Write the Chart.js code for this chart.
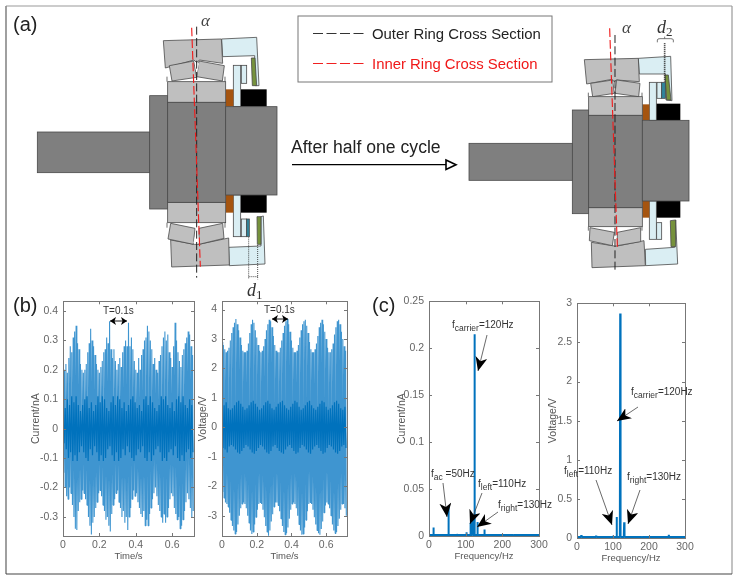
<!DOCTYPE html>
<html>
<head>
<meta charset="utf-8">
<script src="https://cdn.jsdelivr.net/npm/chart.js@4/dist/chart.umd.min.js"></script>
<style>
html, body { margin: 0; padding: 0; background: #fff; }
#page { position: relative; width: 738px; height: 579px; overflow: hidden; font-family: "Liberation Sans", Arial, sans-serif; }
#page canvas { position: absolute; }
#art { position: absolute; left: 0; top: 0; }
.part { stroke: #4a4a4a; stroke-width: 2.4; }
.dark { fill: #7f7f7f; }
.light { fill: #bfbfbf; }
.seal { fill: #daeef3; }
.brown { fill: #a5540f; }
.black { fill: #000; }
.green { fill: #76923c; }
.teal { fill: #31859c; }
.note { font-size: 10px; fill: #333; }
.panel { font-size: 20px; fill: #222; }
.alpha { font-family: "Liberation Serif", serif; font-style: italic; font-size: 17px; fill: #444; }
</style>
</head>
<body>
<div id="page">
  <canvas id="currentWave" width="172" height="272" style="left:30px;top:290px"></canvas>
  <canvas id="voltageWave" width="158" height="272" style="left:197px;top:290px"></canvas>
  <canvas id="currentSpec" width="155" height="272" style="left:396px;top:290px"></canvas>
  <canvas id="voltageSpec" width="150" height="272" style="left:547px;top:292px"></canvas>

  <svg id="art" width="738" height="579" xmlns="http://www.w3.org/2000/svg">
    <defs>
      <marker id="bigHead" markerUnits="userSpaceOnUse" markerWidth="16" markerHeight="12" refX="14" refY="6" orient="auto">
        <path d="M0,0 L14,6 L0,12 L4,6 Z" fill="#000"/>
      </marker>
      <marker id="tinyHead" markerUnits="userSpaceOnUse" markerWidth="7" markerHeight="8" refX="6" refY="4" orient="auto-start-reverse">
        <path d="M0,0 L6,4 L0,8 L1.5,4 Z" fill="#000"/>
      </marker>
    </defs>

    <!-- figure frame -->
    <line x1="6" y1="6" x2="732" y2="6" stroke="#999" stroke-width="1.2"/>
    <line x1="6" y1="6" x2="6" y2="574" stroke="#888" stroke-width="1.6"/>
    <line x1="732" y1="6" x2="732" y2="574" stroke="#999" stroke-width="1.2"/>
    <line x1="6" y1="574" x2="732" y2="574" stroke="#444" stroke-width="1.2"/>

    <text class="panel" x="13" y="31">(a)</text>
    <text class="panel" x="13" y="312">(b)</text>
    <text class="panel" x="372" y="312">(c)</text>

    <!-- legend -->
    <rect x="298" y="16" width="254" height="66" fill="#fff" stroke="#777" stroke-width="1"/>
    <line x1="313" y1="33.5" x2="364" y2="33.5" stroke="#333" stroke-width="1.2" stroke-dasharray="10 3.5"/>
    <line x1="313" y1="63.5" x2="364" y2="63.5" stroke="#f02020" stroke-width="1.2" stroke-dasharray="10 3.5"/>
    <text x="372" y="39" font-size="14.9" fill="#222">Outer Ring Cross Section</text>
    <text x="372" y="69" font-size="14.9" fill="#f01818">Inner Ring Cross Section</text>

    <!-- left bearing, traced at 3x -->
    <g transform="scale(0.33333)">
      <rect class="part dark" x="112" y="396" width="338" height="122"/>
      <rect class="part dark" x="449" y="287" width="54" height="340"/>
      <polygon class="part seal" points="665,117 770,112 777,257 766,257 764,167 668,170"/>
      <polygon class="part seal" points="783,650 790,648 795,792 688,797 686,742 783,738"/>
      <polygon class="part green" points="754,174 765,174 770,257 757,257"/>
      <polygon class="part green" points="771,650 783,650 783,733 772,733"/>
      <rect class="part seal" x="700" y="196" width="22" height="124"/>
      <rect class="part seal" x="724" y="196" width="16" height="54"/>
      <rect class="part seal" x="700" y="585" width="22" height="125"/>
      <rect class="part seal" x="724" y="657" width="16" height="53"/>
      <rect class="part teal" x="740" y="657" width="8" height="53"/>
      <rect class="brown" x="677" y="268" width="23" height="52"/>
      <rect class="brown" x="677" y="585" width="23" height="53"/>
      <rect class="black" x="723" y="268" width="77" height="52"/>
      <rect class="black" x="723" y="585" width="77" height="53"/>
      <polygon class="part light" points="490,122 664,117 668,190 598,180 590,188 582,180 496,204"/>
      <polygon class="part light" points="512,720 583,733 597,733 686,714 688,795 515,801"/>
      <polygon class="part light" points="508,197 581,183 590,232 516,243"/>
      <polygon class="part light" points="597,183 673,197 667,243 590,230"/>
      <polygon class="part light" points="512,670 585,685 580,733 504,717"/>
      <polygon class="part light" points="597,685 668,670 672,715 597,733"/>
      <polygon points="590,690 580,730 600,730" fill="#fff"/>
      <polygon points="585,190 597,190 590,225" fill="#fff"/>
      <rect class="part light" x="503" y="245" width="174" height="62"/>
      <rect class="part light" x="503" y="607" width="174" height="61"/>
      <line class="part" x1="501" y1="230" x2="501" y2="245"/>
      <line class="part" x1="675" y1="230" x2="675" y2="245"/>
      <line class="part" x1="501" y1="668" x2="501" y2="683"/>
      <line class="part" x1="675" y1="668" x2="675" y2="683"/>
      <rect class="part dark" x="503" y="307" width="174" height="300"/>
      <rect class="part dark" x="677" y="320" width="154" height="265"/>
      <line x1="590" y1="80" x2="590" y2="833" stroke="#222" stroke-width="3" stroke-dasharray="24 10"/>
      <line x1="575" y1="83" x2="601" y2="800" stroke="#f01c1c" stroke-width="3.4" stroke-dasharray="26 9"/>
      <path d="M746,712 V838 M773,735 V838 M746,830 H773" fill="none" stroke="#222" stroke-width="2.4" stroke-dasharray="3 3"/>
    </g>
    <text class="alpha" x="201" y="26">α</text>
    <text x="247" y="296" font-family="Liberation Serif, serif" font-style="italic" font-size="18" fill="#333">d<tspan dy="3" font-size="13" font-style="normal">1</tspan></text>

    <!-- right bearing, traced at 3x -->
    <g transform="translate(370,0) scale(0.33333)">
      <rect class="part dark" x="297" y="430" width="311" height="111"/>
      <rect class="part dark" x="607" y="330" width="49" height="311"/>
      <polygon class="part seal" points="805,175 902,169 906,302 888,300 886,222 808,222"/>
      <polygon class="part seal" points="826,748 914,742 917,660 923,792 827,797"/>
      <polygon class="part green" points="885,225 895,225 903,300 890,300"/>
      <polygon class="part green" points="901,662 917,660 917,740 903,740"/>
      <rect class="part seal" x="838" y="247" width="21" height="114"/>
      <rect class="part seal" x="861" y="247" width="14" height="48"/>
      <rect class="part teal" x="875" y="247" width="11" height="48"/>
      <rect class="part seal" x="838" y="603" width="21" height="115"/>
      <rect class="part seal" x="860" y="668" width="15" height="50"/>
      <rect class="brown" x="817" y="313" width="21" height="48"/>
      <rect class="brown" x="817" y="603" width="21" height="50"/>
      <rect class="black" x="860" y="311" width="71" height="50"/>
      <rect class="black" x="860" y="603" width="71" height="50"/>
      <polygon class="part light" points="643,179 805,175 808,245 740,240 733,245 725,238 650,252"/>
      <polygon class="part light" points="664,727 733,738 742,738 822,722 826,797 666,803"/>
      <polygon class="part light" points="662,250 728,240 733,280 668,290"/>
      <polygon class="part light" points="740,240 810,250 806,290 735,280"/>
      <polygon class="part light" points="660,683 733,697 727,737 658,722"/>
      <polygon class="part light" points="742,697 812,683 812,725 742,737"/>
      <rect class="part light" x="656" y="290" width="161" height="56"/>
      <rect class="part light" x="656" y="623" width="161" height="57"/>
      <line class="part" x1="655" y1="278" x2="655" y2="290"/>
      <line class="part" x1="816" y1="278" x2="816" y2="290"/>
      <line class="part" x1="655" y1="680" x2="655" y2="692"/>
      <line class="part" x1="816" y1="680" x2="816" y2="692"/>
      <rect class="part dark" x="656" y="346" width="161" height="277"/>
      <rect class="part dark" x="817" y="361" width="140" height="242"/>
      <line x1="735" y1="105" x2="735" y2="815" stroke="#222" stroke-width="3" stroke-dasharray="24 10"/>
      <line x1="719" y1="85" x2="742" y2="740" stroke="#f01c1c" stroke-width="3.4" stroke-dasharray="26 9"/>
      <path d="M884,130 V245" fill="none" stroke="#222" stroke-width="5" stroke-dasharray="3 3"/>
      <path d="M862,127 V120 Q862,116 870,116 H884 V110 M884,116 H902 Q910,116 910,120 V127" fill="none" stroke="#444" stroke-width="2.2"/>
    </g>
    <text class="alpha" x="622" y="33">α</text>
    <text x="657" y="33" font-family="Liberation Serif, serif" font-style="italic" font-size="18" fill="#333">d<tspan dy="3" font-size="13" font-style="normal">2</tspan></text>

    <!-- half cycle arrow -->
    <text x="291" y="153" font-size="17.6" fill="#222">After half one cycle</text>
    <line x1="292" y1="164.7" x2="446" y2="164.7" stroke="#000" stroke-width="1.3"/>
    <polygon points="446,160 456,164.7 446,169.4" fill="#fff" stroke="#000" stroke-width="1.6"/>

    <!-- T labels on the time plots -->
    <text class="note" x="103" y="314">T=0.1s</text>
    <line x1="110" y1="321" x2="127" y2="321" stroke="#000" stroke-width="0.9" marker-start="url(#tinyHead)" marker-end="url(#tinyHead)"/>
    <text class="note" x="264" y="313">T=0.1s</text>
    <line x1="272" y1="319" x2="288" y2="319" stroke="#000" stroke-width="0.9" marker-start="url(#tinyHead)" marker-end="url(#tinyHead)"/>

    <!-- labels on the spectra -->
    <text class="note" x="452" y="328">f<tspan dy="3" font-size="8.5">carrier</tspan><tspan dy="-3">=120Hz</tspan></text>
    <line x1="487" y1="335" x2="478" y2="371" stroke="#444" stroke-width="0.8" marker-end="url(#bigHead)"/>
    <text class="note" x="431" y="477">f<tspan dy="3" font-size="8.5">ac</tspan><tspan dy="-3"> =50Hz</tspan></text>
    <line x1="443" y1="483" x2="447" y2="517" stroke="#444" stroke-width="0.8" marker-end="url(#bigHead)"/>
    <text class="note" x="478" y="487">f<tspan dy="3" font-size="8.5">left</tspan><tspan dy="-3">=110Hz</tspan></text>
    <line x1="482" y1="493" x2="470" y2="524" stroke="#444" stroke-width="0.8" marker-end="url(#bigHead)"/>
    <text class="note" x="498" y="508">f<tspan dy="3" font-size="8.5">right</tspan><tspan dy="-3">=130Hz</tspan></text>
    <line x1="498" y1="512" x2="477" y2="527" stroke="#444" stroke-width="0.8" marker-end="url(#bigHead)"/>

    <text class="note" x="631" y="395">f<tspan dy="3" font-size="8.5">carrier</tspan><tspan dy="-3">=120Hz</tspan></text>
    <line x1="638" y1="407" x2="617" y2="421" stroke="#444" stroke-width="0.8" marker-end="url(#bigHead)"/>
    <text class="note" x="564" y="474">f<tspan dy="3" font-size="8.5">left</tspan><tspan dy="-3">=110Hz</tspan></text>
    <line x1="596" y1="480" x2="612" y2="525" stroke="#444" stroke-width="0.8" marker-end="url(#bigHead)"/>
    <text class="note" x="627" y="480">f<tspan dy="3" font-size="8.5">right</tspan><tspan dy="-3">=130Hz</tspan></text>
    <line x1="640" y1="490" x2="628" y2="524" stroke="#444" stroke-width="0.8" marker-end="url(#bigHead)"/>
  </svg>
</div>

<script>
// peaks, one up and one down per step
const waveStep = 0.008;
const coreStep = 0.012;

const currentUpper = [
  .19,.2,.22,.19,.24,.28,.26,.31,.33,.35,
  .29,.27,.22,.2,.19,.2,.22,.26,.29,.34,
  .3,.28,.25,.22,.2,.19,.21,.23,.26,.27,
  .31,.29,.365,.27,.24,.27,.23,.2,.22,.24,
  .21,.26,.28,.3,.28,.36,.28,.31,.27,.23,
  .2,.19,.24,.2,.25,.27,.3,.31,.35,.33,
  .3,.27,.22,.24,.2,.19,.23,.25,.28,.31,
  .33,.3,.32,.26,.24,.21,.28,.36,.3,.26,
  .23,.21,.25,.27,.29,.31,.33,.32,.28,.25];
const currentLower = [
  -.15,-.2,-.23,-.24,-.2,-.22,-.26,-.3,-.34,-.345,
  -.28,-.25,-.24,-.21,-.22,-.24,-.26,-.3,-.33,-.36,
  -.32,-.3,-.27,-.25,-.22,-.21,-.23,-.26,-.28,-.31,
  -.3,-.33,-.35,-.29,-.26,-.24,-.22,-.21,-.25,-.27,
  -.3,-.28,-.32,-.3,-.345,-.3,-.27,-.24,-.21,-.23,
  -.22,-.25,-.27,-.29,-.3,-.28,-.33,-.31,-.33,-.29,
  -.27,-.24,-.22,-.2,-.23,-.26,-.28,-.3,-.32,-.29,
  -.32,-.3,-.27,-.24,-.22,-.23,-.27,-.29,-.31,-.3,
  -.34,-.33,-.31,-.28,-.25,-.22,-.24,-.27,-.3,-.28];
const currentCore = [
  .05,.07,.1,.08,.11,.09,.11,.08,.06,.08,.1,.11,.07,.09,.06,.08,.11,.09,.11,.1,
  .07,.06,.09,.11,.08,.11,.1,.07,.09,.06,.08,.1,.11,.09,.07,.08,.06,.1,.11,.08,
  .11,.09,.07,.06,.08,.11,.1,.11,.08,.07,.09,.06,.1,.11,.09,.11,.08,.07,.1,.08];

const voltageUpper = [
  2.9,2.8,2.65,2.55,2.6,2.7,2.95,3.2,3.4,3.55,
  3.68,3.5,3.3,3.05,2.8,2.6,2.55,2.55,2.6,2.85,
  3.2,3.5,3.65,3.55,3.3,3.05,2.8,2.6,2.55,2.6,
  2.75,3.0,3.3,3.5,3.65,3.6,3.4,3.1,2.8,2.6,
  2.55,2.55,2.7,2.95,3.2,3.45,3.6,3.68,3.5,3.25,
  2.95,2.7,2.55,2.55,2.6,2.8,3.05,3.3,3.5,3.6,
  3.65,3.45,3.2,2.9,2.65,2.55,2.55,2.65,2.85,3.1,
  3.4,3.55,3.65,3.5,3.25,3.0,2.7,2.55,2.55,2.65,
  2.85,3.15,3.4,3.6,3.65,3.5,3.25,3.0,2.75,2.6];
const voltageLower = [
  -2.2,-2.4,-2.55,-2.6,-2.7,-2.9,-3.15,-3.35,-3.5,-3.62,
  -3.55,-3.3,-3.0,-2.75,-2.6,-2.55,-2.6,-2.75,-3.0,-3.25,
  -3.5,-3.62,-3.55,-3.3,-3.05,-2.8,-2.6,-2.55,-2.6,-2.8,
  -3.05,-3.35,-3.55,-3.68,-3.5,-3.2,-2.95,-2.7,-2.55,-2.55,
  -2.65,-2.85,-3.1,-3.35,-3.55,-3.65,-3.6,-3.4,-3.1,-2.8,
  -2.6,-2.55,-2.6,-2.75,-3.0,-3.3,-3.5,-3.65,-3.62,-3.4,
  -3.15,-2.85,-2.6,-2.55,-2.6,-2.8,-3.05,-3.3,-3.5,-3.6,
  -3.65,-3.45,-3.2,-2.9,-2.65,-2.55,-2.6,-2.75,-3.0,-3.3,
  -3.5,-3.6,-3.55,-3.35,-3.1,-2.8,-2.6,-2.6,-2.75,-3.0];
const voltageCore = [
  .7,.75,.85,.65,.6,.65,.75,.85,.9,.8,.7,.6,.65,.75,.85,.9,.8,.7,.6,.65,
  .75,.85,.9,.8,.65,.6,.7,.8,.85,.9,.75,.65,.6,.7,.8,.9,.85,.7,.6,.65,
  .75,.85,.9,.75,.65,.6,.7,.8,.9,.85,.7,.6,.65,.75,.85,.9,.8,.65,.6,.7];

const currentFreq = [0,11,12,13,30,31,32,52,53,54,75,76,77,90,91,92,101,102,103,112,113,114,117,118,119,123,124,125,131,132,133,150,151,152,164,165,166,190,191,192,230,231,232,300];
const currentAmp = [.001,.001,.009,.001,.001,.0015,.001,.001,.032,.001,.001,.002,.001,.001,.002,.001,.001,.004,.001,.001,.014,.001,.001,.018,.001,.001,.215,.001,.001,.015,.001,.001,.007,.001,.001,.002,.001,.001,.0015,.001,.001,.0012,.001,.001];
const voltageFreq = [0,11,12,13,52,53,54,99,100,101,109,110,111,119,120,121,130,131,132,159,160,161,179,180,181,254,255,256,300];
const voltageAmp = [.012,.012,.035,.012,.012,.03,.012,.012,.025,.012,.012,.27,.012,.012,2.87,.012,.012,.2,.012,.012,.02,.012,.012,.018,.012,.012,.04,.012,.012];

const timeTicks = [0, 0.2, 0.4, 0.6];
const freqTicks = [0, 100, 200, 300];
const currentTicks = [-0.3, -0.2, -0.1, 0, 0.1, 0.2, 0.3, 0.4];
const voltageTicks = [-3, -2, -1, 0, 1, 2, 3, 4];
const currentSpecTicks = [0, 0.05, 0.1, 0.15, 0.2, 0.25];
const voltageSpecTicks = [0, 0.5, 1, 1.5, 2, 2.5, 3];

// zigzag between the read peaks
function zigzag(upper, lower, step) {
  const pts = [];
  upper.forEach((u, i) => {
    pts.push({ x: i * step, y: u });
    pts.push({ x: (i + 0.5) * step, y: lower[i] });
  });
  return pts;
}
const stems = (freq, amp) => freq.map((f, i) => ({ x: f, y: amp[i] }));

// MATLAB style box with ticks pointing in
const boxTicks = {
  id: 'boxTicks',
  afterDraw(chart) {
    const { ctx, chartArea: a, scales } = chart;
    ctx.save();
    ctx.strokeStyle = '#777';
    ctx.lineWidth = 1;
    ctx.strokeRect(Math.round(a.left) + 0.5, Math.round(a.top) + 0.5, Math.round(a.width), Math.round(a.height));
    ctx.beginPath();
    scales.x.ticks.forEach(t => {
      const px = Math.round(scales.x.getPixelForValue(t.value)) + 0.5;
      ctx.moveTo(px, a.top); ctx.lineTo(px, a.top + 3);
      ctx.moveTo(px, a.bottom); ctx.lineTo(px, a.bottom - 3);
    });
    scales.y.ticks.forEach(t => {
      const py = Math.round(scales.y.getPixelForValue(t.value)) + 0.5;
      ctx.moveTo(a.left, py); ctx.lineTo(a.left + 3, py);
      ctx.moveTo(a.right, py); ctx.lineTo(a.right - 3, py);
    });
    ctx.stroke();
    ctx.restore();
  }
};

const tickFont = { size: 10.5, family: 'Liberation Sans' };

function makeChart(id, datasets, cfg) {
  return new Chart(document.getElementById(id), {
    type: 'line',
    data: { datasets },
    plugins: [boxTicks],
    options: {
      responsive: false,
      animation: false,
      parsing: false,
      normalized: true,
      layout: { autoPadding: false, padding: { top: 8, right: cfg.right, left: 0, bottom: 0 } },
      plugins: { legend: { display: false }, tooltip: { enabled: false } },
      elements: { point: { radius: 0 } },
      scales: {
        x: {
          type: 'linear', min: cfg.xMin, max: cfg.xMax,
          grid: { display: false, drawTicks: false }, border: { display: false },
          afterBuildTicks: s => { s.ticks = cfg.xTicks.map(v => ({ value: v })); },
          afterFit: s => { s.height = 26; },
          ticks: { color: '#666', font: tickFont, padding: 3, maxRotation: 0, callback: v => String(v) },
          title: { display: true, text: cfg.xTitle, color: '#555', font: { size: 9.5, family: 'Liberation Sans' }, padding: { top: 0, bottom: 0 } }
        },
        y: {
          type: 'linear', min: cfg.yMin, max: cfg.yMax,
          grid: { display: false, drawTicks: false }, border: { display: false },
          afterBuildTicks: s => { s.ticks = cfg.yTicks.map(v => ({ value: v })); },
          afterFit: s => { s.width = cfg.left; },
          ticks: { color: '#666', font: tickFont, padding: 5, callback: v => String(v) },
          title: { display: true, text: cfg.yTitle, color: '#555', font: { size: 10.5, family: 'Liberation Sans' }, padding: { top: 0, bottom: 0 } }
        }
      }
    }
  });
}

const lightBlue = '#3f95d0';
const darkBlue = '#0072bd';
const wave = (data, color, w, clip) => ({ data, borderColor: color, borderWidth: w, borderJoinStyle: 'bevel', tension: 0, fill: false, clip });

// first dataset is painted last, so the dark core goes first
makeChart('currentWave', [
  wave(zigzag(currentCore, currentCore.map(v => -v), coreStep), darkBlue, 1.2, 0),
  wave(zigzag(currentUpper, currentLower, waveStep), lightBlue, 1.1, 0)
], { left: 33, right: 8, xMin: 0, xMax: 0.72, yMin: -0.365, yMax: 0.433, xTicks: timeTicks, yTicks: currentTicks, xTitle: 'Time/s', yTitle: 'Current/nA' });

makeChart('voltageWave', [
  wave(zigzag(voltageCore, voltageCore.map(v => -v), coreStep), darkBlue, 1.2, 0),
  wave(zigzag(voltageUpper, voltageLower, waveStep), lightBlue, 1.1, 0)
], { left: 25, right: 8, xMin: 0, xMax: 0.72, yMin: -3.69, yMax: 4.28, xTicks: timeTicks, yTicks: voltageTicks, xTitle: 'Time/s', yTitle: 'Voltage/V' });

makeChart('currentSpec', [wave(stems(currentFreq, currentAmp), darkBlue, 2, false)],
  { left: 33, right: 12, xMin: 0, xMax: 300, yMin: 0, yMax: 0.25, xTicks: freqTicks, yTicks: currentSpecTicks, xTitle: 'Frequency/Hz', yTitle: 'Current/nA' });

makeChart('voltageSpec', [wave(stems(voltageFreq, voltageAmp), darkBlue, 2, false)],
  { left: 30, right: 12, xMin: 0, xMax: 300, yMin: 0, yMax: 3, xTicks: freqTicks, yTicks: voltageSpecTicks, xTitle: 'Frequency/Hz', yTitle: 'Voltage/V' });
</script>
</body>
</html>
